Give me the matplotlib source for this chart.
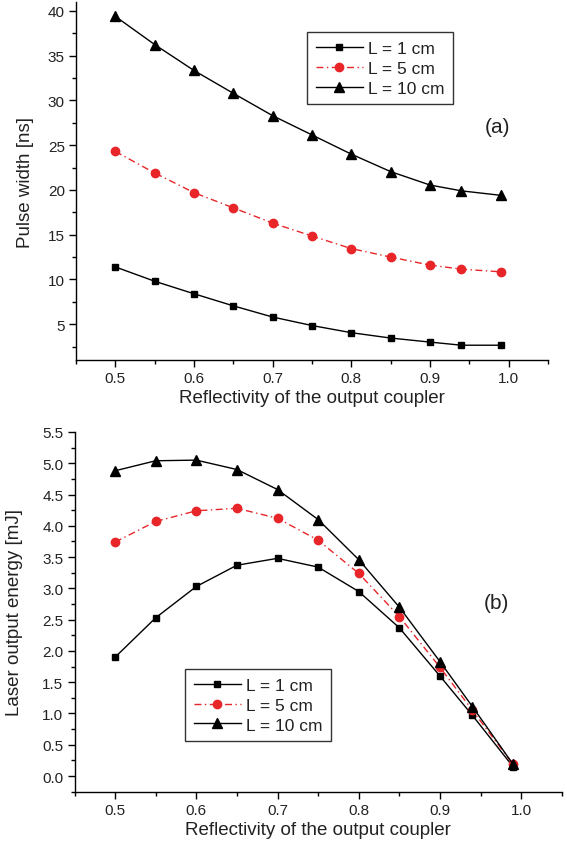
import matplotlib
matplotlib.use("Agg")
import matplotlib.pyplot as plt
from matplotlib.ticker import MultipleLocator, FormatStrFormatter

plt.rcParams['font.family'] = ['Liberation Sans', 'DejaVu Sans']

reflectivity = [0.5, 0.55, 0.6, 0.65, 0.7, 0.75, 0.8, 0.85, 0.9, 0.94, 0.99]

pulse_L1 = [11.4, 9.8, 8.4, 7.05, 5.8, 4.85, 4.05, 3.45, 3.0, 2.65, 2.65]
pulse_L5 = [24.3, 21.9, 19.7, 18.0, 16.3, 14.85, 13.45, 12.5, 11.6, 11.15, 10.85]
pulse_L10 = [39.4, 36.25, 33.35, 30.8, 28.3, 26.15, 24.0, 22.05, 20.55, 19.9, 19.4]

energy_L1 = [1.90, 2.53, 3.03, 3.37, 3.48, 3.34, 2.95, 2.37, 1.60, 0.97, 0.15]
energy_L5 = [3.74, 4.07, 4.24, 4.28, 4.12, 3.77, 3.24, 2.55, 1.74, 1.05, 0.19]
energy_L10 = [4.88, 5.04, 5.05, 4.90, 4.58, 4.10, 3.46, 2.70, 1.83, 1.11, 0.19]

labels = ["L = 1 cm", "L = 5 cm", "L = 10 cm"]
xlabel = "Reflectivity of the output coupler"

RED = "#e8262a"
DASHDOT = (0, (5, 2.5, 1, 2.5))

fig = plt.figure(figsize=(5.67, 8.45), dpi=100)
ax1 = fig.add_axes([0.134, 0.5728, 0.8325, 0.4236])
ax2 = fig.add_axes([0.1314, 0.0619, 0.8593, 0.4257])


def style(ax):
    for s in ['top', 'right']:
        ax.spines[s].set_visible(False)
    for s in ['left', 'bottom']:
        ax.spines[s].set_linewidth(1.0)
    ax.tick_params(which='major', direction='out', length=5, width=1,
                   labelsize=11, colors='black', labelcolor='#222222', pad=3)
    ax.tick_params(which='minor', direction='out', length=3, width=1)
    ax.set_xlim(0.45, 1.05)
    ax.xaxis.set_major_locator(MultipleLocator(0.1))
    ax.xaxis.set_minor_locator(MultipleLocator(0.05))


def draw(ax, y1, y5, y10):
    ax.plot(reflectivity, y1, '-', color='black', lw=1, marker='s', ms=5,
            label=labels[0])
    ax.plot(reflectivity, y5, linestyle=DASHDOT, color=RED, lw=1, marker='o', ms=6,
            label=labels[1])
    ax.plot(reflectivity, y10, '-', color='black', lw=1, marker='^', ms=7,
            label=labels[2])


def legend(ax, anchor):
    leg = ax.legend(loc='upper left', bbox_to_anchor=anchor, fontsize=12.5,
                    frameon=True, fancybox=False, edgecolor='black',
                    handlelength=2.7, borderpad=0.5, labelspacing=0.27,
                    handletextpad=0.3, borderaxespad=0)
    leg.get_frame().set_linewidth(1.0)
    for t in leg.get_texts():
        t.set_color('#222222')
    return leg


draw(ax1, pulse_L1, pulse_L5, pulse_L10)
style(ax1)
ax1.set_ylim(1, 41)
ax1.yaxis.set_major_locator(MultipleLocator(5))
ax1.yaxis.set_minor_locator(MultipleLocator(2.5))
ax1.set_yticks([5, 10, 15, 20, 25, 30, 35, 40])
ax1.set_xlabel(xlabel, fontsize=13.5, labelpad=3, color='#222222')
ax1.set_ylabel("Pulse width [ns]", fontsize=13.5, color='#222222')
ax1.yaxis.set_label_coords(-0.089, 0.5)
ax1.text(0.892, 0.651, "(a)", transform=ax1.transAxes, fontsize=15,
         ha='center', va='center', color='#222222')
legend(ax1, (0.49, 0.916))

draw(ax2, energy_L1, energy_L5, energy_L10)
style(ax2)
ax2.set_ylim(-0.25, 5.5)
ax2.yaxis.set_major_locator(MultipleLocator(0.5))
ax2.yaxis.set_minor_locator(MultipleLocator(0.25))
ax2.yaxis.set_major_formatter(FormatStrFormatter('%.1f'))
ax2.set_xlabel(xlabel, fontsize=13.5, labelpad=3, color='#222222')
ax2.set_ylabel("Laser output energy [mJ]", fontsize=13.5, color='#222222')
ax2.yaxis.set_label_coords(-0.105, 0.5)
ax2.text(0.867, 0.527, "(b)", transform=ax2.transAxes, fontsize=15,
         ha='center', va='center', color='#222222')
legend(ax2, (0.2268, 0.341))

fig.savefig("out.png", dpi=100)
